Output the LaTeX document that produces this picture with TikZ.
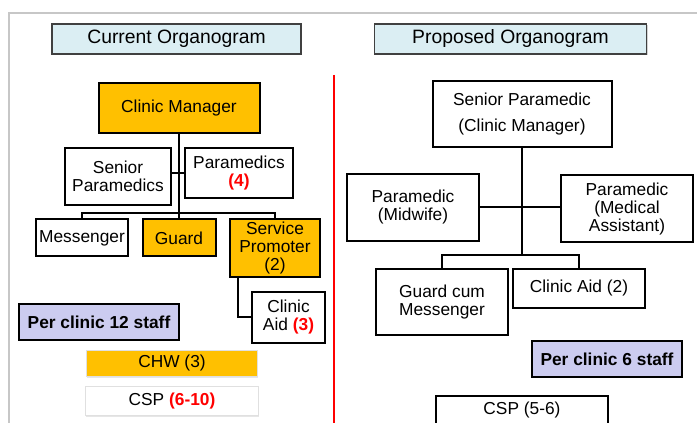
\documentclass[tikz,border=0pt]{standalone}
\usepackage{fontspec}
\setmainfont{Liberation Sans}
\usetikzlibrary{shadows}

\definecolor{mgrorange}{RGB}{255,192,0}
\definecolor{ttlblue}{RGB}{219,238,243}
\definecolor{staffblue}{RGB}{204,204,240}
\definecolor{numred}{RGB}{255,0,0}
\newcommand\hinum[1]{{\color{numred}\bfseries #1}}

\tikzset{every picture/.style={line width=0.75pt},
  wh/.style 2 args={minimum width=#1*0.75pt, minimum height=#2*0.75pt},
  orgbox/.style={draw, line width=1.5pt, fill=white, inner sep=0pt, align=center, font=\fontsize{13}{13.5}\selectfont},
  ttlbox/.style={draw=black!75, line width=1pt, fill=ttlblue, inner sep=0pt, font=\fontsize{14.5}{16}\selectfont, drop shadow={shadow xshift=1pt, shadow yshift=-1pt, opacity=0.35}},
  staffbox/.style={draw, line width=1.5pt, fill=staffblue, inner sep=0pt, font=\fontsize{13}{13.5}\selectfont\bfseries},
  flatbox/.style={draw=black!12, line width=0.5pt, inner sep=0pt, font=\fontsize{13}{13.5}\selectfont, drop shadow={shadow xshift=0.6pt, shadow yshift=-0.8pt, opacity=0.2}},
  link/.style={line width=1.5pt}}

\begin{document}
\begin{tikzpicture}[x=0.75pt,y=0.75pt,yscale=-1,xscale=1]
\useasboundingbox (0,0) rectangle (697,423);
\clip (0,0) rectangle (697,423);

%Frame
\draw [color=black!22, line width=1.5pt] (9,430) -- (9,13) -- (705,13) ;
%Divider
\draw [color=numred, line width=1.5pt] (334,75) -- (334,430) ;

% Current organogram
\node (curttl) [ttlbox, wh={249}{30}] at (176.5,39) {Current Organogram};
\node (cm) [orgbox, fill=mgrorange, wh={161}{50}] at (179,108) {Clinic Manager};
\node (snrp) [orgbox, wh={106}{57}] at (118,176.5) {Senior\\Paramedics};
\node (para) [orgbox, wh={108}{50}] at (239,173) {Paramedics\\\hinum{(4)}};
\node (mess) [orgbox, wh={92}{37}] at (82,238) {Messenger};
\node (guard) [orgbox, fill=mgrorange, wh={73}{37}] at (179,238) {Guard};
\node (svp) [orgbox, fill=mgrorange, wh={90}{58}] at (275,248) {Service\\Promoter\\(2)};
\node (aid) [orgbox, wh={73}{51}] at (288.5,317.5) {Clinic\\Aid \hinum{(3)}};
\node (staffL) [staffbox, wh={160}{36}] at (99,322) {Per clinic 12 staff};
\node (chw) [flatbox, fill=mgrorange, wh={171}{26}] at (172,363.5) {CHW (3)};
\node (csp) [flatbox, fill=white, wh={173}{29}] at (172,401) {CSP \hinum{(6-10)}};

\coordinate (barL) at (179,213);
\draw [link] (cm.south) -- (guard.north) ;
\draw [link] (mess.north) |- (barL) -| (svp.north) ;
\draw [link] (para.west) -- (para.west -| snrp.east) ;
\draw [link] (svp.south west) ++(9,0) |- (aid.west) ;

% Proposed organogram
\node (propttl) [ttlbox, wh={272}{30}] at (510.5,39) {Proposed Organogram};
\node (snrpm) [orgbox, wh={179}{66}, font=\fontsize{13}{19.5}\selectfont] at (522,114) {Senior Paramedic\\(Clinic Manager)};
\node (mid) [orgbox, wh={132}{67}] at (413,207.5) {Paramedic\\(Midwife)};
\node (medas) [orgbox, wh={132}{67}] at (627,209) {Paramedic\\(Medical\\Assistant)};
\node (gcm) [orgbox, wh={132}{66}] at (442,302) {Guard cum\\Messenger};
\node (aid2) [orgbox, wh={132}{39}] at (579,288.5) {Clinic Aid (2)};
\node (staffR) [staffbox, wh={150}{36}] at (607,359) {Per clinic 6 staff};
\node (csp2) [orgbox, line width=2.2pt, wh={172}{28}] at (522,410) {CSP (5-6)};

\coordinate (barR) at (522,255);
\draw [link] (snrpm.south) -- (barR) ;
\draw [link] (mid.east) -- (mid.east -| medas.west) ;
\draw [link] (gcm.north) |- (barR) -| (aid2.north) ;

\end{tikzpicture}
\end{document}
